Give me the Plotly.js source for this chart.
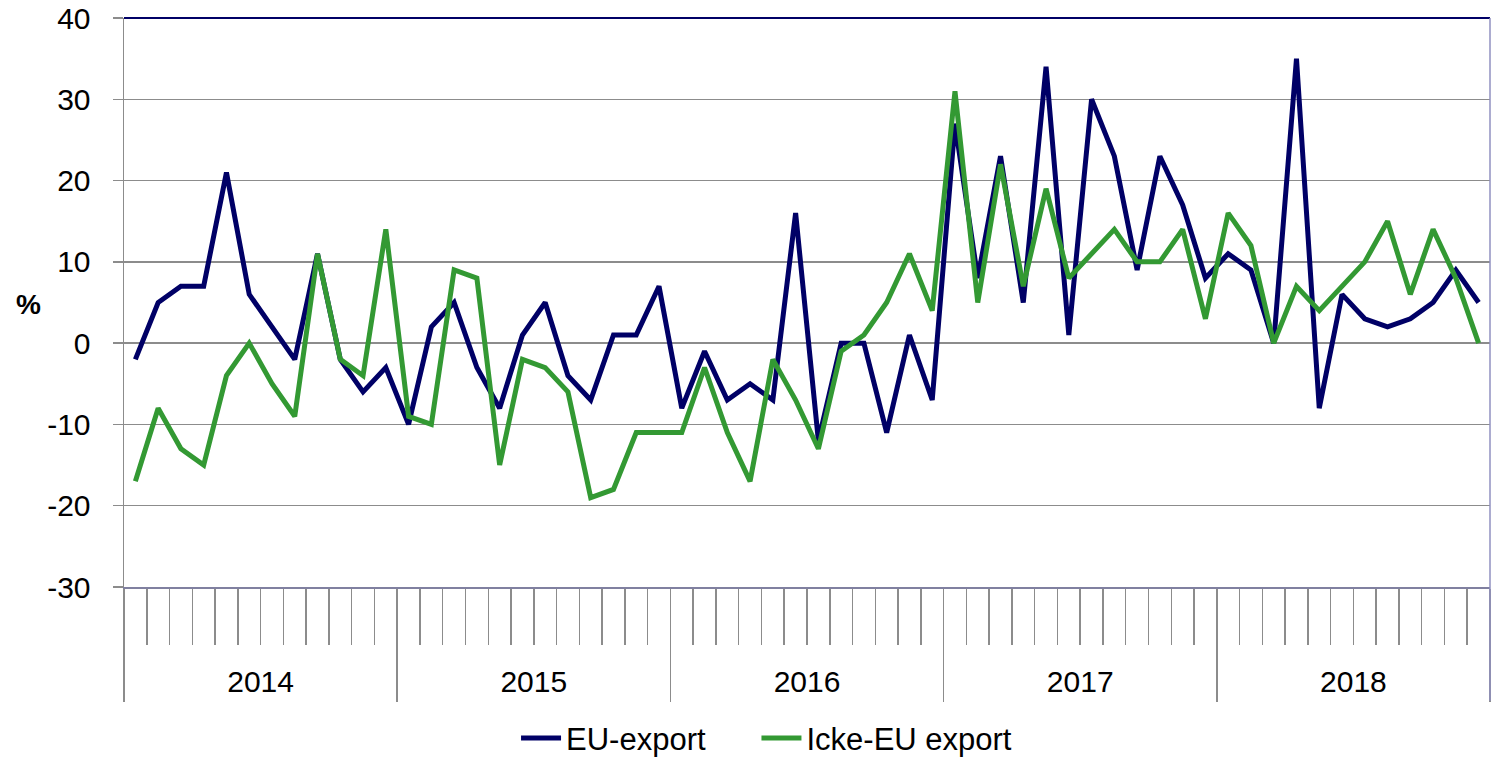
<!DOCTYPE html>
<html>
<head>
<meta charset="utf-8">
<script src="https://cdn.plot.ly/plotly-3.0.1.min.js"></script>
<style>
  html, body { margin: 0; padding: 0; background: #fff; }
  #chart { width: 1491px; height: 758px; }
</style>
</head>
<body>
<div id="chart"></div>
<script>
// Månadsvis förändring, jan 2014 - dec 2018 (%)
const years = ['2014', '2015', '2016', '2017', '2018'];

const euExport = [
  -2, 5, 7, 7, 21, 6, 2, -2, 11, -2, -6, -3,
  -10, 2, 5, -3, -8, 1, 5, -4, -7, 1, 1, 7,
  -8, -1, -7, -5, -7, 16, -12, 0, 0, -11, 1, -7,
  27, 8, 23, 5, 34, 1, 30, 23, 9, 23, 17, 8,
  11, 9, 0, 35, -8, 6, 3, 2, 3, 5, 9, 5
];

const ickeEuExport = [
  -17, -8, -13, -15, -4, 0, -5, -9, 11, -2, -4, 14,
  -9, -10, 9, 8, -15, -2, -3, -6, -19, -18, -11, -11,
  -11, -3, -11, -17, -2, -7, -13, -1, 1, 5, 11, 4,
  31, 5, 22, 7, 19, 8, 11, 14, 10, 10, 14, 3,
  16, 12, 0, 7, 4, 7, 10, 15, 6, 14, 8, 0
];

const yTicks = [-30, -20, -10, 0, 10, 20, 30, 40];

// månad i placeras mitt i sitt fack
const months = euExport.map((v, i) => i + 0.5);
const yearBounds = years.map((y, i) => i * 12).concat([years.length * 12]);
const yearMids = years.map((y, i) => i * 12 + 6);

const font = 'Liberation Sans, Arial, sans-serif';
const gray = '#8c8c8c';

const traces = [
  {
    x: months, y: euExport, name: 'EU-export',
    type: 'scatter', mode: 'lines', legend: 'legend',
    line: { color: '#000066', width: 5 }
  },
  {
    x: months, y: ickeEuExport, name: 'Icke-EU export',
    type: 'scatter', mode: 'lines', xaxis: 'x2', legend: 'legend2',
    line: { color: '#339933', width: 5 }
  }
];

const legendBase = {
  orientation: 'h',
  xanchor: 'left',
  y: -0.266, yanchor: 'middle',
  font: { family: font, size: 31 },
  itemwidth: 40
};

const layout = {
  width: 1491,
  height: 758,
  margin: { l: 124, r: 1, t: 18, b: 171, autoexpand: false },
  paper_bgcolor: '#fff',
  plot_bgcolor: '#fff',
  font: { family: font, size: 30, color: '#000' },
  showlegend: true,
  legend: Object.assign({}, legendBase, { x: 0.287 }),
  legend2: Object.assign({}, legendBase, { x: 0.463 }),
  xaxis: {
    range: [0, 60],
    tickmode: 'array',
    tickvals: yearBounds,
    ticktext: yearBounds.map(() => ''),
    ticks: 'outside', ticklen: 113, tickwidth: 1.5, tickcolor: gray,
    minor: { tick0: 0, dtick: 1, ticks: 'outside', ticklen: 56, tickwidth: 1.5, tickcolor: gray, showgrid: false },
    showline: true, linecolor: '#8080a0', linewidth: 1.5,
    showgrid: false, zeroline: false, fixedrange: true
  },
  xaxis2: {
    overlaying: 'x',
    range: [0, 60],
    tickmode: 'array',
    tickvals: yearMids,
    ticktext: years,
    ticks: '', ticklabelstandoff: 74,
    tickfont: { family: font, size: 30 },
    showline: false, showgrid: false, zeroline: false, fixedrange: true
  },
  yaxis: {
    range: [-30, 40],
    tickmode: 'array',
    tickvals: yTicks,
    ticktext: yTicks.map(String),
    ticks: 'outside', ticklen: 10, tickwidth: 1.5, tickcolor: gray,
    ticklabelstandoff: 16,
    tickfont: { family: font, size: 30 },
    showline: true, linecolor: gray, linewidth: 1.5,
    showgrid: true, gridcolor: gray, gridwidth: 1.5,
    zeroline: true, zerolinecolor: gray, zerolinewidth: 1.5,
    fixedrange: true
  },
  annotations: [{
    text: '<b>%</b>', xref: 'paper', yref: 'paper',
    x: -0.07, y: 0.496, xanchor: 'center', yanchor: 'middle',
    showarrow: false, font: { family: font, size: 28 }
  }],
  shapes: [
    { type: 'line', xref: 'paper', yref: 'paper', x0: 0, x1: 1, y0: 1, y1: 1,
      line: { color: '#000066', width: 2 } },
    { type: 'line', xref: 'paper', yref: 'paper', x0: 1, x1: 1, y0: 1, y1: -0.2,
      line: { color: '#9090c0', width: 1.5 } }
  ]
};

Plotly.newPlot('chart', traces, layout, { displayModeBar: false, staticPlot: true });
</script>
</body>
</html>
